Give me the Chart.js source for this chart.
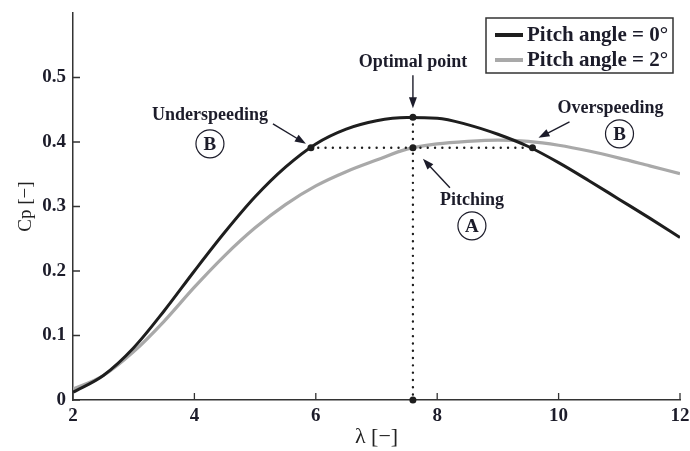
<!DOCTYPE html>
<html>
<head>
<meta charset="utf-8">
<script src="https://cdn.jsdelivr.net/npm/chart.js@4.4.1/dist/chart.umd.min.js"></script>
<style>
  html, body { margin: 0; padding: 0; background: #fff; }
  #wrap { width: 690px; height: 451px; }
</style>
</head>
<body>
<div id="wrap"><canvas id="cp" width="690" height="451"></canvas></div>
<script>
// tip speed ratio and power coefficient for the two pitch settings
const lambda = [2, 2.5, 3, 3.5, 4, 4.5, 5, 5.5, 6, 6.5, 7, 7.5, 8, 8.5, 9, 9.5, 10, 10.5, 11, 11.5, 12];
const cpPitch0 = [0.012, 0.038, 0.081, 0.138, 0.200, 0.260, 0.315, 0.361, 0.397, 0.420, 0.433, 0.438, 0.437, 0.427, 0.412, 0.393, 0.368, 0.340, 0.311, 0.282, 0.252];
const cpPitch2 = [0.017, 0.038, 0.075, 0.122, 0.175, 0.224, 0.267, 0.303, 0.332, 0.354, 0.372, 0.389, 0.397, 0.401, 0.403, 0.401, 0.395, 0.386, 0.375, 0.363, 0.351];
const seriesNames = ["Pitch angle = 0°", "Pitch angle = 2°"];

// underspeeding, optimal, pitching, overspeeding, foot of the optimal line
const opLambda = [5.92, 7.6, 7.6, 9.57, 7.6];
const opCp = [0.391, 0.4385, 0.391, 0.391, 0];

const xTicks = [2, 4, 6, 8, 10, 12];
const yTicks = [0, 0.1, 0.2, 0.3, 0.4, 0.5];

const INK = "#1e1e1e";
const GREY = "#a9a9a9";
const TEXT = "#1c1c2a";
const SERIF = "'Liberation Serif', 'Times New Roman', serif";

const toXY = (xs, ys) => xs.map((x, i) => ({ x: x, y: ys[i] }));
const opPt = (i) => ({ x: opLambda[i], y: opCp[i] });

function arrow(ctx, x1, y1, x2, y2) {
  const a = Math.atan2(y2 - y1, x2 - x1);
  const len = 11, hw = 4;
  ctx.beginPath();
  ctx.moveTo(x1, y1);
  ctx.lineTo(x2 - Math.cos(a) * len * 0.8, y2 - Math.sin(a) * len * 0.8);
  ctx.stroke();
  ctx.beginPath();
  ctx.moveTo(x2, y2);
  ctx.lineTo(x2 - Math.cos(a) * len + Math.sin(a) * hw, y2 - Math.sin(a) * len - Math.cos(a) * hw);
  ctx.lineTo(x2 - Math.cos(a) * len - Math.sin(a) * hw, y2 - Math.sin(a) * len + Math.cos(a) * hw);
  ctx.closePath();
  ctx.fill();
}

function circled(ctx, x, y, letter) {
  ctx.beginPath();
  ctx.arc(x, y, 14, 0, Math.PI * 2);
  ctx.lineWidth = 1.2;
  ctx.stroke();
  ctx.fillText(letter, x, y + 1);
}

// inward tick marks on both axes
const innerTicks = {
  id: "innerTicks",
  afterDatasetsDraw(chart) {
    const { ctx, chartArea, scales } = chart;
    ctx.save();
    ctx.strokeStyle = "#333";
    ctx.lineWidth = 1.3;
    ctx.beginPath();
    xTicks.forEach((v) => {
      const x = scales.x.getPixelForValue(v);
      ctx.moveTo(x, chartArea.bottom);
      ctx.lineTo(x, chartArea.bottom - 7);
    });
    yTicks.forEach((v) => {
      const y = scales.y.getPixelForValue(v);
      ctx.moveTo(chartArea.left, y);
      ctx.lineTo(chartArea.left + 7, y);
    });
    ctx.stroke();
    ctx.restore();
  },
};

// operating point labels with arrows
const notes = {
  id: "notes",
  afterDatasetsDraw(chart) {
    const { ctx, scales } = chart;
    const p = (i) => ({ x: scales.x.getPixelForValue(opLambda[i]), y: scales.y.getPixelForValue(opCp[i]) });
    ctx.save();
    ctx.fillStyle = TEXT;
    ctx.strokeStyle = TEXT;
    ctx.lineWidth = 1.4;
    ctx.textAlign = "center";
    ctx.textBaseline = "middle";
    ctx.font = "bold 18px " + SERIF;

    const u = p(0);
    ctx.fillText("Underspeeding", u.x - 101, u.y - 32);
    arrow(ctx, u.x - 38, u.y - 24, u.x - 5, u.y - 4);

    const o = p(1);
    ctx.fillText("Optimal point", o.x, o.y - 55);
    arrow(ctx, o.x, o.y - 42, o.x, o.y - 9);

    const pa = p(2);
    ctx.fillText("Pitching", pa.x + 59, pa.y + 53);
    arrow(ctx, pa.x + 37, pa.y + 40, pa.x + 10, pa.y + 11);

    const ov = p(3);
    ctx.fillText("Overspeeding", ov.x + 78, ov.y - 39);
    arrow(ctx, ov.x + 37, ov.y - 26, ov.x + 6, ov.y - 10);

    ctx.font = "bold 19px " + SERIF;
    circled(ctx, u.x - 101, u.y - 4, "B");
    circled(ctx, ov.x + 87, ov.y - 14, "B");
    circled(ctx, pa.x + 59, pa.y + 78, "A");
    ctx.restore();
  },
};

// boxed legend in the top right corner
const boxLegend = {
  id: "boxLegend",
  afterDraw(chart) {
    const { ctx, chartArea } = chart;
    const right = chartArea.right - 7, top = chartArea.top + 5;
    const w = 187, h = 55;
    const left = right - w;
    ctx.save();
    ctx.fillStyle = "#fff";
    ctx.fillRect(left, top, w, h);
    ctx.strokeStyle = "#333";
    ctx.lineWidth = 1.5;
    ctx.strokeRect(left, top, w, h);
    ctx.font = "bold 21px " + SERIF;
    ctx.textBaseline = "middle";
    chart.data.datasets.slice(0, 2).forEach((ds, i) => {
      const y = top + 17 + i * 25;
      ctx.strokeStyle = ds.borderColor;
      ctx.lineWidth = 4;
      ctx.beginPath();
      ctx.moveTo(left + 9, y);
      ctx.lineTo(left + 37, y);
      ctx.stroke();
      ctx.fillStyle = TEXT;
      ctx.fillText(ds.label, left + 41, y + 1, w - 44);
    });
    ctx.restore();
  },
};

const dotted = {
  borderColor: INK,
  borderWidth: 2.4,
  borderDash: [0, 7.3],
  borderCapStyle: "round",
  pointRadius: 0,
  fill: false,
};

new Chart(document.getElementById("cp"), {
  type: "line",
  data: {
    datasets: [
      {
        label: seriesNames[0],
        data: toXY(lambda, cpPitch0),
        borderColor: INK,
        borderWidth: 3,
        pointRadius: 0,
        cubicInterpolationMode: "monotone",
        order: 2,
      },
      {
        label: seriesNames[1],
        data: toXY(lambda, cpPitch2),
        borderColor: GREY,
        borderWidth: 3.2,
        pointRadius: 0,
        cubicInterpolationMode: "monotone",
        order: 3,
      },
      Object.assign({ label: "h", data: [opPt(0), opPt(3)], order: 1 }, dotted),
      Object.assign({ label: "v", data: [opPt(1), opPt(4)], order: 1 }, dotted),
      {
        label: "points",
        data: toXY(opLambda, opCp),
        showLine: false,
        pointRadius: 3.5,
        pointBackgroundColor: INK,
        pointBorderWidth: 0,
        clip: false,
        order: 0,
      },
    ],
  },
  options: {
    responsive: false,
    animation: false,
    events: [],
    layout: { padding: { top: 13, right: 10, left: 0, bottom: 0 } },
    plugins: { legend: { display: false }, tooltip: { enabled: false } },
    scales: {
      x: {
        type: "linear",
        min: 2,
        max: 12,
        afterFit: (s) => {
          s.height = 51;
          s.paddingLeft = 0;
          s.paddingRight = 0;
        },
        afterBuildTicks: (s) => { s.ticks = xTicks.map((v) => ({ value: v })); },
        grid: { drawOnChartArea: false, drawTicks: false },
        border: { display: true, color: "#333", width: 1.5 },
        ticks: {
          padding: 5,
          color: TEXT,
          font: { family: SERIF, size: 19, weight: "bold" },
        },
        title: {
          display: true,
          text: "λ [−]",
          color: "#222",
          font: { family: SERIF, size: 22 },
          padding: { top: 0, bottom: 1 },
        },
      },
      y: {
        type: "linear",
        min: 0,
        max: 0.6,
        afterFit: (s) => {
          s.width = 73;
          s.paddingTop = 0;
          s.paddingBottom = 0;
        },
        afterBuildTicks: (s) => { s.ticks = yTicks.map((v) => ({ value: v })); },
        grid: { drawOnChartArea: false, drawTicks: false },
        border: { display: true, color: "#333", width: 1.5 },
        ticks: {
          padding: 7,
          color: TEXT,
          font: { family: SERIF, size: 19, weight: "bold" },
        },
        title: {
          display: true,
          text: "Cp [−]",
          color: "#222",
          font: { family: SERIF, size: 19 },
          padding: { top: 15, bottom: 0 },
        },
      },
    },
  },
  plugins: [innerTicks, notes, boxLegend],
});
</script>
</body>
</html>
